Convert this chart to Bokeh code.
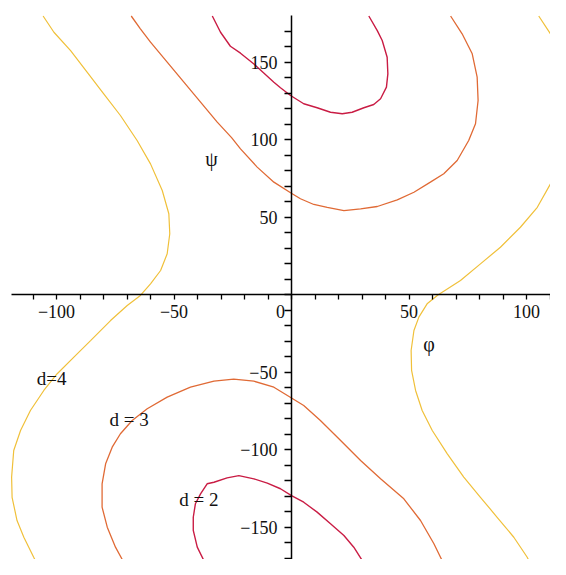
from bokeh.plotting import figure
from bokeh.models import Range1d, FixedTicker, LinearAxis
from bokeh.core.properties import value
from bokeh.embed import file_html
from bokeh.resources import INLINE

# ---- data (phi, psi in degrees) ----
d2_upper_phi = [-33.7, -30.2, -26.0, -21.7, -16.0, -7.5, -4.7, -0.4, 5.2, 10.9, 16.6, 21.6, 25.8, 30.8, 35.0, 37.9, 40.4, 41.0, 40.7, 38.6, 36.5, 32.9]
d2_upper_psi = [180, 169.5, 160.5, 156.0, 149.0, 137.3, 133.7, 128.7, 123.4, 120.8, 117.9, 116.9, 117.9, 120.8, 122.9, 126.6, 134.1, 142.7, 153.4, 164.2, 170.6, 180]

d2_lower_phi = [32.9, 30.1, 26.5, 22.3, 16.6, 10.9, 5.2, 0.0, -4.7, -10.3, -16.0, -22.4, -27.4, -33.0, -35.9, -38.7, -40.9, -41.8, -41.8, -40.1, -37.3, -33.7]
d2_lower_psi = [-180, -171.3, -162.7, -155.2, -147.6, -140.1, -133.7, -129.4, -125.0, -121.4, -118.6, -116.5, -118.0, -120.8, -121.8, -128.3, -134.7, -143.4, -151.9, -162.7, -171.3, -180]

d3_upper_phi = [-68.2, -64.3, -60.0, -52.9, -45.8, -38.7, -31.6, -25.5, -21.7, -14.6, -7.5, -0.4, 3.8, 9.5, 15.2, 22.3, 29.4, 36.5, 45.0, 52.1, 59.1, 64.8, 70.5, 75.4, 78.3, 79.4, 79.0, 76.9, 72.6, 67.7]
d3_upper_psi = [180, 171.7, 163.1, 150.2, 137.3, 124.4, 111.5, 101.5, 94.3, 82.5, 72.8, 66.0, 62.1, 58.4, 56.6, 54.5, 55.6, 57.1, 61.4, 66.3, 72.8, 78.2, 86.8, 99.7, 110.5, 125.5, 140.5, 155.6, 168.5, 180]

d3_lower_phi = [66.9, 63.4, 60.6, 54.9, 47.8, 37.9, 29.4, 20.9, 12.3, 5.2, 0.0, -7.5, -16.0, -24.6, -33.0, -43.0, -52.9, -61.4, -67.8, -72.8, -76.3, -79.1, -80.6, -80.6, -78.4, -74.9, -71.4, -68.5]
d3_lower_psi = [-180, -169.2, -160.5, -145.5, -131.5, -118.6, -106.8, -93.9, -81.0, -71.3, -66.5, -59.5, -55.6, -54.3, -55.6, -59.5, -65.9, -73.4, -81.0, -89.5, -98.2, -108.9, -121.8, -136.9, -149.8, -162.7, -172.4, -180]

d4_left_phi = [-105.7, -101.1, -94.0, -86.9, -79.9, -72.8, -65.7, -60.0, -55.0, -52.2, -51.8, -52.9, -55.7, -60.0, -64.3, -69.9, -77.0, -85.5, -92.6, -99.7, -105.4, -111.1, -115.3, -118.2, -119.1, -118.9, -116.8, -113.9, -109.7, -106.1]
d4_left_psi = [180, 169.5, 157.7, 143.7, 129.8, 115.8, 99.7, 84.6, 67.4, 52.4, 39.5, 26.6, 15.8, 7.2, -0.3, -6.8, -16.5, -29.4, -40.1, -50.8, -61.6, -74.5, -87.4, -100.3, -117.5, -130.5, -145.5, -156.3, -169.2, -180]

d4_right_phi = [105.2, 110.2, 114.5, 116.2, 116.8, 116.8, 116.5, 116.0, 114.5, 110.2, 104.6, 97.4, 88.9, 80.4, 71.9, 62.3, 57.7, 54.2, 52.1, 50.9, 51.1, 52.8, 55.6, 59.9, 66.3, 73.3, 80.4, 87.5, 94.6, 100.3, 103.8]
d4_right_psi = [180, 168.5, 155.6, 142.7, 130.0, 120.0, 110.0, 99.7, 86.8, 71.7, 56.6, 43.7, 30.8, 20.1, 9.4, 0.0, -5.7, -14.3, -22.9, -35.8, -48.7, -61.6, -74.5, -87.4, -102.5, -117.5, -130.5, -143.4, -156.3, -169.2, -180]

x_major_ticks = [-100, -50, 0, 50, 100]
x_minor_ticks = [-110, -90, -80, -70, -60, -40, -30, -20, -10, 10, 20, 30, 40, 60, 70, 80, 90, 110]
y_major_ticks = [-150, -100, -50, 0, 50, 100, 150]
y_minor_ticks = [-170, -160, -140, -130, -120, -110, -90, -80, -70, -60, -40, -30, -20, -10,
                 10, 20, 30, 40, 60, 70, 80, 90, 110, 120, 130, 140, 160, 170]

contour_labels = ["d=4", "d = 3", "d = 2"]
contour_label_phi = [-102.1, -69.1, -39.4]
contour_label_psi = [-53.9, -80.1, -131.7]

COL_D2 = "#c91c44"
COL_D3 = "#e06a35"
COL_D4 = "#f0c03a"
SERIF = "Liberation Serif"
TXT = "#111111"

p = figure(width=550, height=559, x_range=Range1d(-123.83, 110.21), y_range=Range1d(-170.65, 190.0),
           output_backend="svg", toolbar_location=None, min_border=0,
           x_axis_location=None, y_axis_location=None)
p.outline_line_color = None
p.background_fill_color = "white"
p.grid.visible = False

xa = LinearAxis(fixed_location=0, bounds=(-119, 120))
xa.ticker = FixedTicker(ticks=x_major_ticks, minor_ticks=x_minor_ticks)
xa.major_tick_out = 5
xa.major_tick_in = 0
xa.minor_tick_out = 5
xa.minor_tick_in = 0
xa.major_label_standoff = 5
xa.major_label_overrides = {0: ""}
p.add_layout(xa, "below")

ya = LinearAxis(fixed_location=0, bounds=(-180, 180))
ya.ticker = FixedTicker(ticks=y_major_ticks, minor_ticks=y_minor_ticks)
ya.major_tick_out = 7
ya.major_tick_in = 0
ya.minor_tick_out = 7
ya.minor_tick_in = 0
ya.major_label_standoff = 7
ya.major_label_overrides = {0: ""}
p.add_layout(ya, "left")

for ax in (xa, ya):
    ax.axis_line_color = "black"
    ax.axis_line_width = 1.5
    ax.major_tick_line_color = "black"
    ax.minor_tick_line_color = "black"
    ax.major_tick_line_width = 1.3
    ax.minor_tick_line_width = 1.3
    ax.major_label_text_font = SERIF
    ax.major_label_text_font_size = "18px"
    ax.major_label_text_color = TXT

p.line(d4_left_phi, d4_left_psi, line_color=COL_D4, line_width=1.2)
p.line(d4_right_phi, d4_right_psi, line_color=COL_D4, line_width=1.2)
p.line(d3_upper_phi, d3_upper_psi, line_color=COL_D3, line_width=1.3)
p.line(d3_lower_phi, d3_lower_psi, line_color=COL_D3, line_width=1.3)
p.line(d2_upper_phi, d2_upper_psi, line_color=COL_D2, line_width=1.4)
p.line(d2_lower_phi, d2_lower_psi, line_color=COL_D2, line_width=1.4)

p.text(x=contour_label_phi, y=contour_label_psi, text=contour_labels,
       text_font=value(SERIF), text_font_size="19px", text_color=TXT,
       text_align="center", text_baseline="middle")

# axis names and origin label
p.text(x=[-34.0], y=[88.0], text=["ψ"], text_font=value(SERIF), text_font_size="20px",
       text_color=TXT, text_align="center", text_baseline="middle")
p.text(x=[58.5], y=[-31.3], text=["φ"], text_font=value(SERIF), text_font_size="20px",
       text_color=TXT, text_align="center", text_baseline="middle")
p.text(x=[0], y=[0], text=["0"], x_offset=-11, y_offset=17, text_font=value(SERIF),
       text_font_size="18px", text_color=TXT, text_align="center", text_baseline="middle")

open("out.html", "w").write(file_html(p, INLINE))
